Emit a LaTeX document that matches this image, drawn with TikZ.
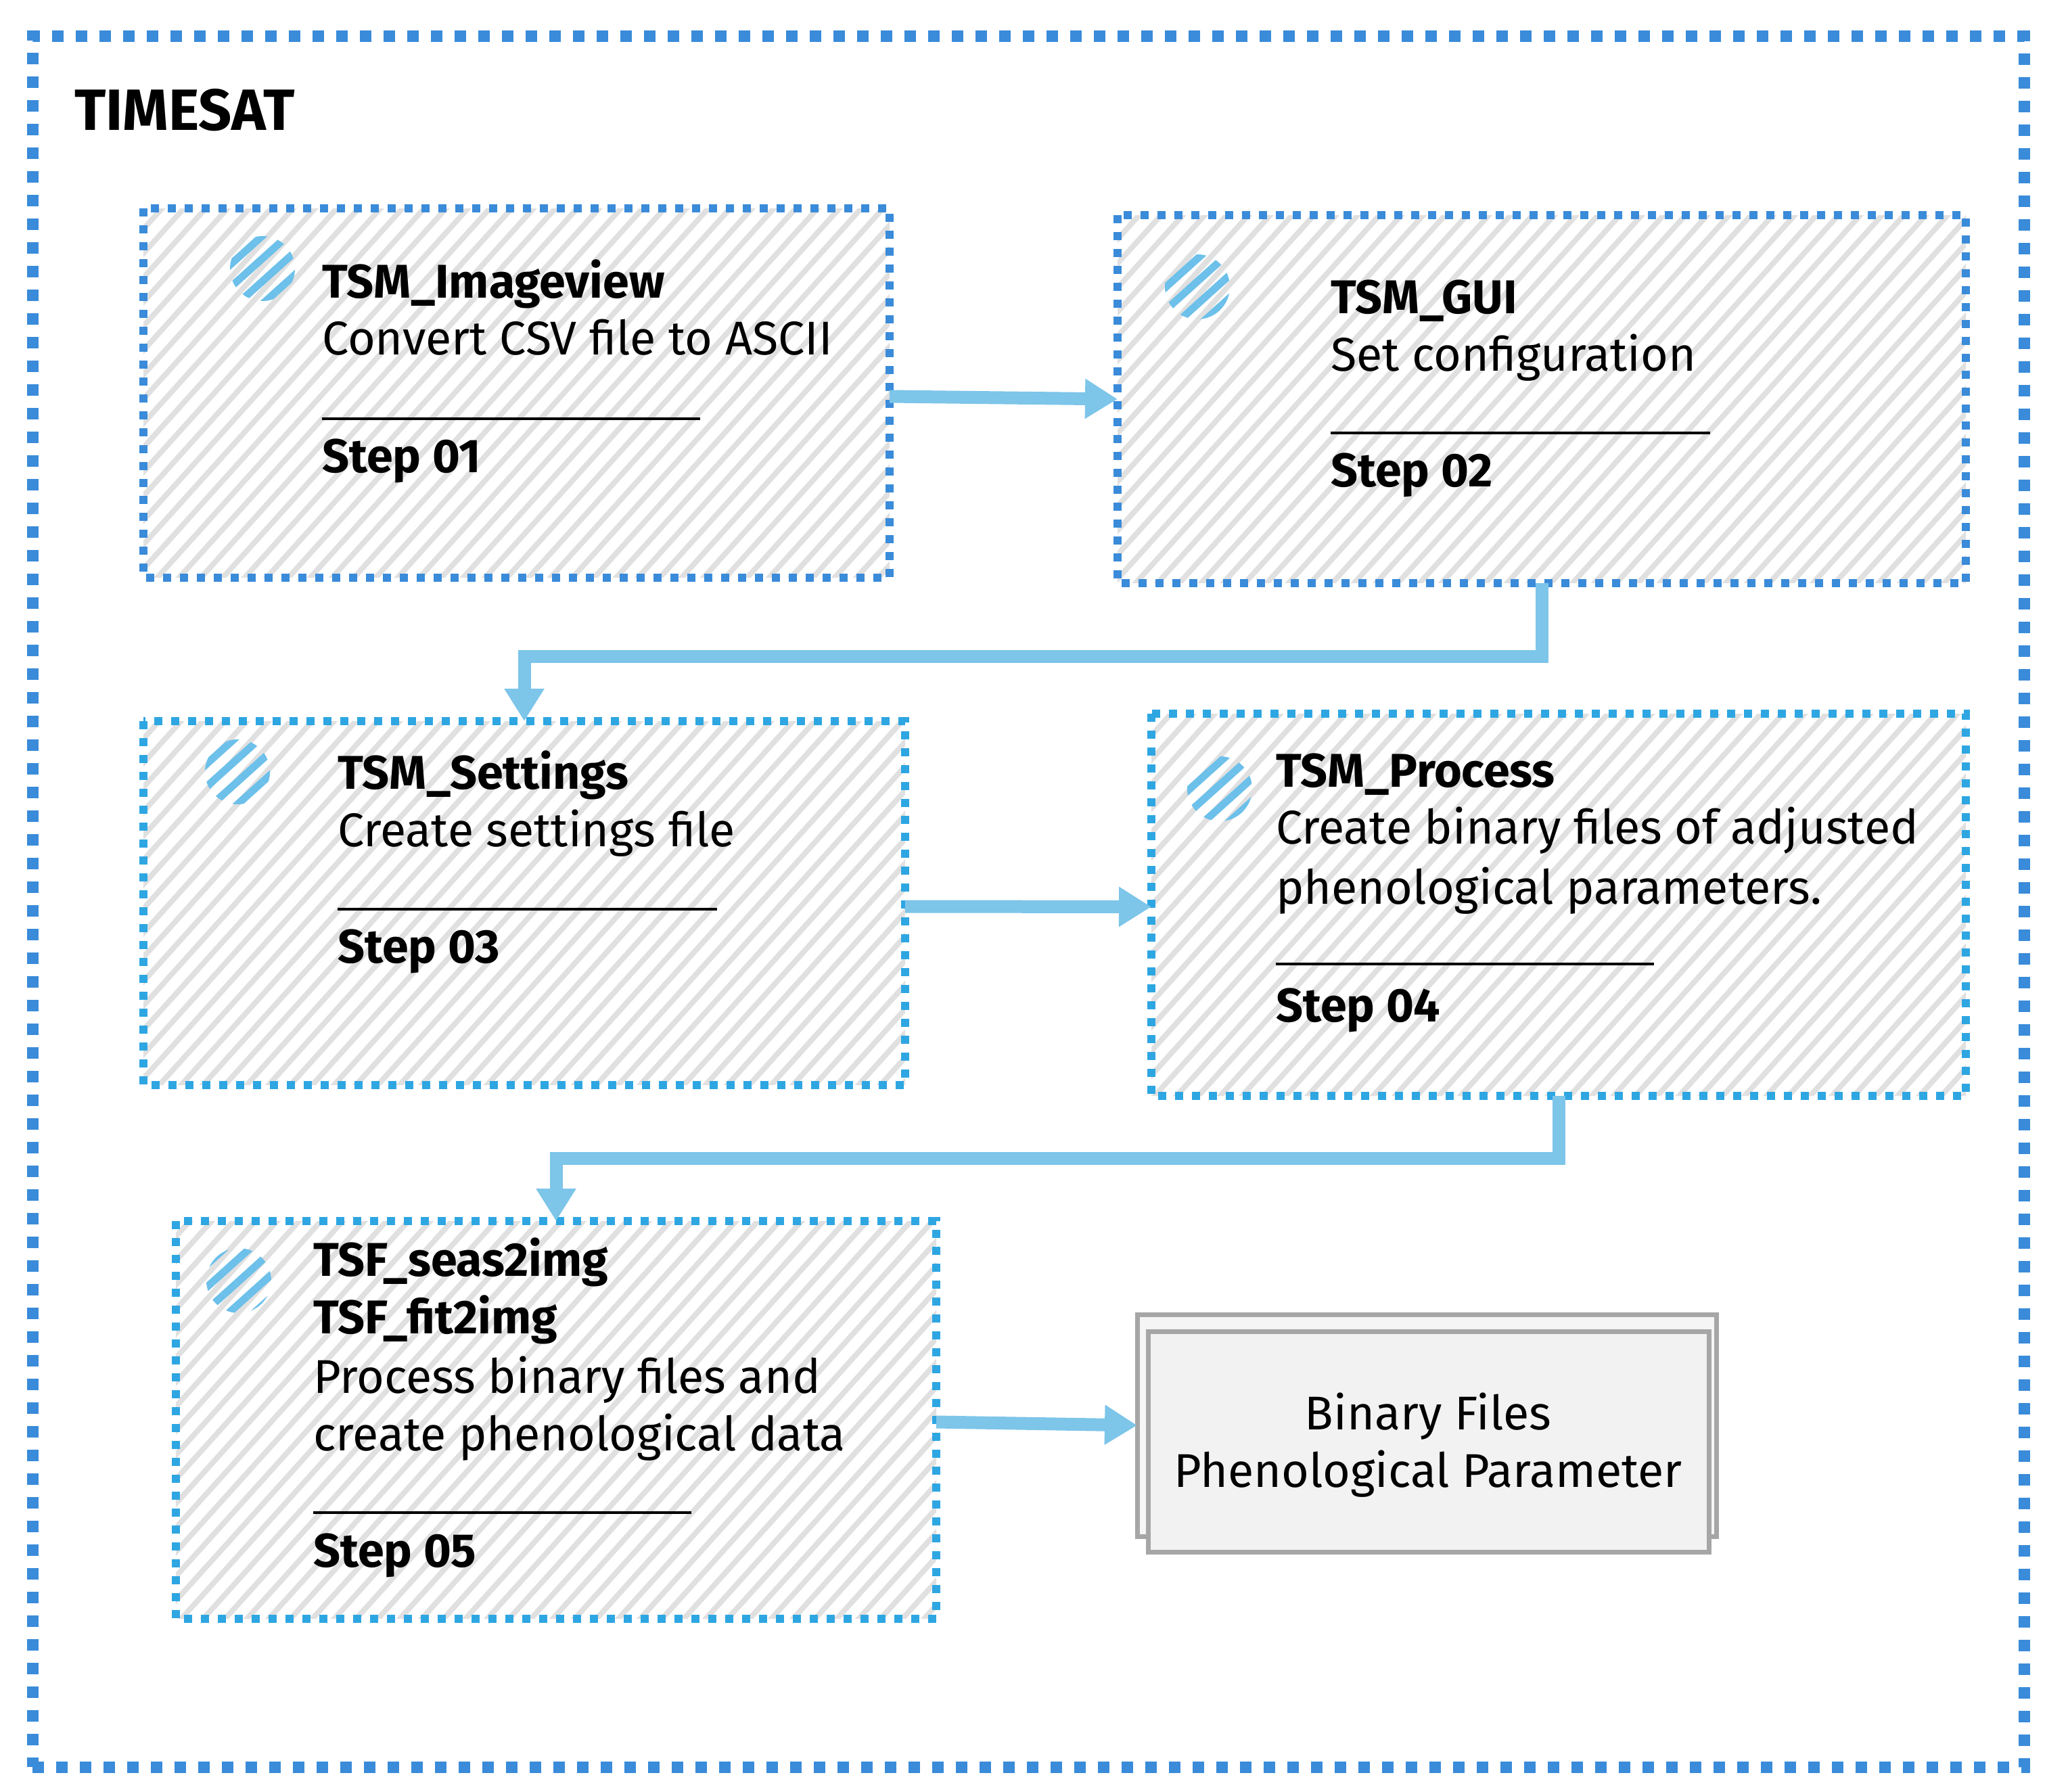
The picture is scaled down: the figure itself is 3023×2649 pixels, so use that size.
\documentclass[tikz,border=0pt]{standalone}
\usepackage{fontspec}
\setmainfont{Fira Sans}
\usetikzlibrary{patterns.meta,arrows.meta}
\definecolor{outerblue}{HTML}{3A8BD9}
\definecolor{blueA}{HTML}{3A8BD9}
\definecolor{blueB}{HTML}{2EA6E2}
\definecolor{arrowblue}{HTML}{7DC5E9}
\definecolor{iconblue}{HTML}{6CC0EA}
\definecolor{hatchgray}{HTML}{E0E0E0}
\definecolor{filegray}{HTML}{A6A6A6}
\begin{document}
\begin{tikzpicture}[x=1pt,y=-1pt,
  stepbox/.style={rectangle, inner sep=0pt, outer sep=0pt, anchor=north west},
  border/.style={draw=#1, line width=12pt, dash pattern=on 12pt off 13pt},
  hatchline/.style={draw=hatchgray, line width=8pt},
  filebox/.style={draw=filegray, line width=7pt, fill=#1, rectangle, inner sep=0pt, outer sep=0pt, anchor=north west},
  icon/.style={circle, minimum size=96pt, inner sep=0pt,
    pattern={Lines[angle=42,distance=25pt,line width=11pt]}, pattern color=iconblue},
  ttl/.style={anchor=base west, inner sep=0pt, font=\bfseries\fontsize{70}{84}\selectfont},
  dsc/.style={anchor=base west, inner sep=0pt, font=\fontsize{70}{84}\selectfont},
  rulel/.style={draw=black, line width=4pt},
  flow/.style={draw=arrowblue, line width=19pt, -{Triangle[length=48pt,width=56pt]}},
]
\useasboundingbox (0,0) rectangle (3023,2649);
\fill[white] (0,0) rectangle (3023,2649);

% outer container
\node[draw=outerblue, line width=17pt, dash pattern=on 17pt off 18pt, rectangle, inner sep=0pt, outer sep=0pt,
  anchor=north west, minimum width=2944pt, minimum height=2558pt] (outer) at (48,54) {};
\node[anchor=base west, inner sep=0pt, font=\bfseries\fontsize{86}{104}\selectfont] (title) at (110,193) {TIMESAT};

% step boxes (areas)
\node[stepbox, minimum width=1103pt, minimum height=546pt] (b1) at (212,308) {};
\node[stepbox, minimum width=1254pt, minimum height=544pt] (b2) at (1652,318) {};
\node[stepbox, minimum width=1126pt, minimum height=538pt] (b3) at (212,1066) {};
\node[stepbox, minimum width=1204pt, minimum height=565pt] (b4) at (1702,1055) {};
\node[stepbox, minimum width=1124pt, minimum height=588pt] (b5) at (260,1805) {};

% hatching inside the step boxes
\begin{scope}
  \clip (b1.north west) rectangle (b1.south east)
        (b2.north west) rectangle (b2.south east)
        (b3.north west) rectangle (b3.south east)
        (b4.north west) rectangle (b4.south east)
        (b5.north west) rectangle (b5.south east);
  \foreach \k in {0,...,170} {
    \draw[hatchline] ({\k*32.3},0) -- ++(-2385,2649);
  }
\end{scope}

% dotted borders
\draw[border=blueA] (b1.north west) rectangle (b1.south east);
\draw[border=blueA] (b2.north west) rectangle (b2.south east);
\draw[border=blueB] (b3.north west) rectangle (b3.south east);
\draw[border=blueB] (b4.north west) rectangle (b4.south east);
\draw[border=blueB] (b5.north west) rectangle (b5.south east);

% output files
\node[filebox=black!4, minimum width=856pt, minimum height=328pt] (bk) at (1681,1943) {};
\node[filebox=black!5, minimum width=829pt, minimum height=326pt] (bf) at (1697,1968) {};
\node[anchor=base, inner sep=0pt, font=\fontsize{70}{84}\selectfont] (bt1) at (2111,2113) {Binary Files};
\node[anchor=base, inner sep=0pt, font=\fontsize{70}{84}\selectfont] (bt2) at (2111,2198) {Phenological Parameter};

% icons
\node[icon] (i1) at (388,397) {};
\node[icon] (i2) at (1770,424) {};
\node[icon] (i3) at (351,1141) {};
\node[icon] (i4) at (1803,1166) {};
\node[icon] (i5) at (353,1893) {};

% box 1
\node[ttl] (t1) at (476,440) {TSM\_Imageview};
\node[dsc] (d1) at (476,524) {Convert CSV file to ASCII};
\coordinate (r1a) at (476,619); \coordinate (r1b) at (1035,619);
\draw[rulel] (r1a) -- (r1b);
\node[ttl] (s1) at (476,698) {Step 01};

% box 2
\node[ttl] (t2) at (1967,463) {TSM\_GUI};
\node[dsc] (d2) at (1967,548) {Set configuration};
\coordinate (r2a) at (1967,640); \coordinate (r2b) at (2528,640);
\draw[rulel] (r2a) -- (r2b);
\node[ttl] (s2) at (1967,719) {Step 02};

% box 3
\node[ttl] (t3) at (499,1166) {TSM\_Settings};
\node[dsc] (d3) at (499,1251) {Create settings file};
\coordinate (r3a) at (499,1344); \coordinate (r3b) at (1060,1344);
\draw[rulel] (r3a) -- (r3b);
\node[ttl] (s3) at (499,1423) {Step 03};

% box 4
\node[ttl] (t4) at (1886,1163) {TSM\_Process};
\node[dsc] (d4a) at (1886,1247) {Create binary files of adjusted};
\node[dsc] (d4b) at (1886,1336) {phenological parameters.};
\coordinate (r4a) at (1886,1425); \coordinate (r4b) at (2445,1425);
\draw[rulel] (r4a) -- (r4b);
\node[ttl] (s4) at (1886,1510) {Step 04};

% box 5
\node[ttl] (t5a) at (463,1886) {TSF\_seas2img};
\node[ttl] (t5b) at (463,1971) {TSF\_fit2img};
\node[dsc] (d5a) at (463,2059) {Process binary files and};
\node[dsc] (d5b) at (463,2144) {create phenological data};
\coordinate (r5a) at (463,2236); \coordinate (r5b) at (1022,2236);
\draw[rulel] (r5a) -- (r5b);
\node[ttl] (s5) at (463,2316) {Step 05};

% connectors
\draw[flow] ([yshift=-5pt]b1.east) -- (b2.west);
\draw[flow] (b2.south) -- ++(0,108) -| (b3.north);
\draw[flow] ([yshift=-5pt]b3.east) -- ([yshift=-3pt]b4.west);
\draw[flow] (b4.south) -- ++(0,92) -| (b5.north);
\draw[flow] ([yshift=-3pt]b5.east) -- (bk.west);
\end{tikzpicture}
\end{document}
